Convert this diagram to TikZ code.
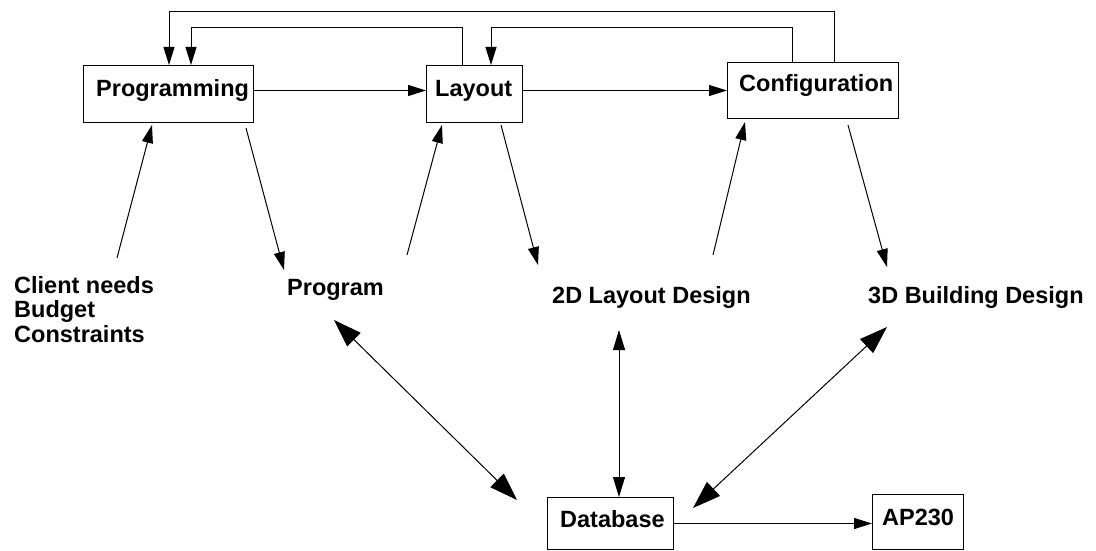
\documentclass[tikz,border=0pt]{standalone}
\usepackage{fontspec}
\setmainfont{Liberation Sans}
\usetikzlibrary{arrows.meta}
\begin{document}
\begin{tikzpicture}[x=1pt,y=-1pt,
  box/.style={draw, line width=1pt, inner sep=0pt, anchor=north west},
  lbl/.style={font=\bfseries\fontsize{23.5}{24.5}\selectfont, inner sep=0pt, anchor=base west},
  arr/.style={line width=1pt, -{Triangle[length=18pt,width=11pt]}},
  darr/.style={line width=1pt, {Triangle[length=28pt,width=19pt]}-{Triangle[length=28pt,width=19pt]}},
  varr/.style={line width=1pt, {Triangle[length=20pt,width=12pt]}-{Triangle[length=20pt,width=12pt]}}]
\useasboundingbox (0,0) rectangle (1096,551);
% boxes
\node[box, minimum width=170pt, minimum height=57pt] (prog) at (83,65) {};
\node[lbl] (progt) at (96,97) {Programming};
\node[box, minimum width=96pt, minimum height=57pt] (layout) at (426,65) {};
\node[lbl] (layoutt) at (435,97) {Layout};
\node[box, minimum width=171pt, minimum height=56pt] (conf) at (727,62) {};
\node[lbl] (conft) at (739,92) {Configuration};
\node[box, minimum width=126pt, minimum height=52pt] (db) at (547,497) {};
\node[lbl] (dbt) at (560,527) {Database};
\node[box, minimum width=91pt, minimum height=55pt] (ap) at (872,494) {};
\node[lbl] (apt) at (882,525) {AP230};
% free labels
\node[lbl, align=left, anchor=north west] (client) at (14,276) {Client needs\\Budget\\Constraints};
\node[lbl] (program) at (287,295) {Program};
\node[lbl] (twod) at (552,303) {2D Layout Design};
\node[lbl] (threed) at (868,303) {3D Building Design};
% feedback loops on top
\coordinate (c1) at ([xshift=107pt]conf.north west);
\coordinate (c2) at ([xshift=65pt]conf.north west);
\coordinate (l1) at ([xshift=36pt]layout.north west);
\coordinate (l2) at ([xshift=65pt]layout.north west);
\coordinate (p1) at ([xshift=86pt]prog.north west);
\coordinate (p2) at ([xshift=108pt]prog.north west);
\draw[arr] (c1) -- ++(0,-50) -| (p1);
\draw[arr] (l1) -- ++(0,-37) -| (p2);
\draw[arr] (c2) -- ++(0,-34) -| (l2);
% horizontal flow
\coordinate (h1) at ([yshift=3.5pt]prog.east);
\coordinate (h2) at ([yshift=3.5pt]layout.east);
\draw[arr] (h1) -- (h1 -| layout.west);
\draw[arr] (h2) -- (h2 -| conf.west);
\draw[arr] (db.east) -- (db.east -| ap.west);
% diagonal arrows
\coordinate (cn) at (117,258);
\coordinate (pin) at ([xshift=69pt,yshift=-2pt]prog.south west);
\draw[arr] (cn) -- (pin);
\coordinate (pout) at ([xshift=163pt,yshift=-5pt]prog.south west);
\coordinate (pg) at (284,270);
\draw[arr] (pout) -- (pg);
\coordinate (lu) at (407,255);
\coordinate (lin) at ([xshift=16pt,yshift=-2pt]layout.south west);
\draw[arr] (lu) -- (lin);
\coordinate (lout) at ([xshift=75pt,yshift=-2pt]layout.south west);
\coordinate (td) at (538,265);
\draw[arr] (lout) -- (td);
\coordinate (cu) at (713,255);
\coordinate (cin) at ([xshift=18pt,yshift=-3pt]conf.south west);
\draw[arr] (cu) -- (cin);
\coordinate (cout) at ([xshift=121pt,yshift=-6pt]conf.south west);
\coordinate (thd) at (887,267);
\draw[arr] (cout) -- (thd);
% database links
\coordinate (pgd) at (334,320);
\coordinate (dbp) at (517,500);
\draw[darr] (pgd) -- (dbp);
\coordinate (tdd) at (619,330);
\coordinate (dbt2) at ([xshift=72pt]db.north west);
\draw[varr] (tdd) -- (dbt2);
\coordinate (thdd) at (887,327);
\coordinate (dbh) at (693,508);
\draw[darr] (thdd) -- (dbh);
\end{tikzpicture}
\end{document}
